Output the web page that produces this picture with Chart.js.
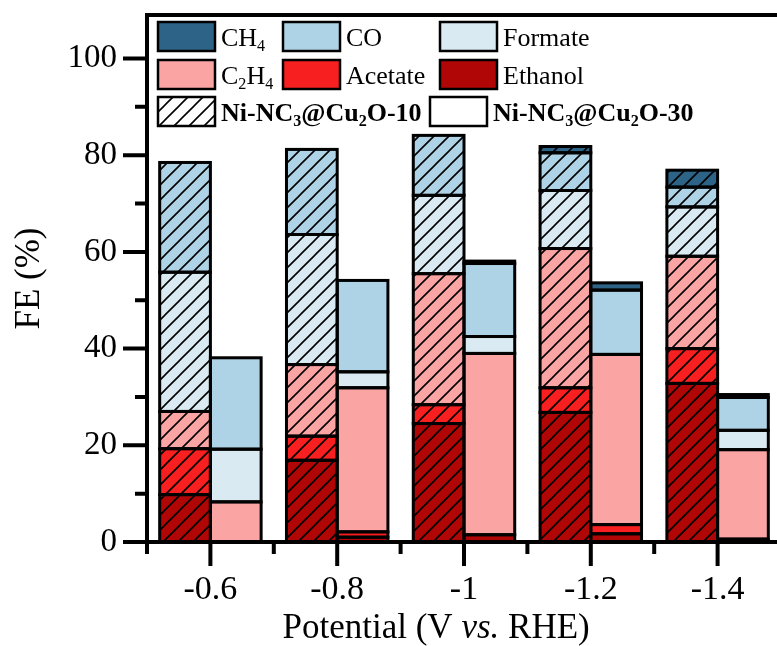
<!DOCTYPE html>
<html>
<head>
<meta charset="utf-8">
<script src="https://cdn.jsdelivr.net/npm/chart.js@4.4.1/dist/chart.umd.min.js"></script>
<style>
  html, body { margin: 0; padding: 0; background: #fff; overflow: hidden; }
  #wrap { width: 800px; height: 646px; }
</style>
</head>
<body>
<div id="wrap"><canvas id="fe" width="800" height="646"></canvas></div>
<script>
const SERIF = "'Liberation Serif', 'Times New Roman', serif";

const potentials = ['-0.6', '-0.8', '-1', '-1.2', '-1.4'];
const yTicks = [0, 20, 40, 60, 80, 100];

// Ni-NC3@Cu2O-10 (hatched)
const ethanol10 = [9.8, 16.9, 24.5, 26.8, 32.8];
const acetate10 = [9.5, 5.0, 3.9, 5.1, 7.2];
const ethylene10 = [7.7, 14.8, 27.1, 28.8, 19.1];
const formate10 = [28.8, 26.9, 16.2, 12.0, 10.2];
const co10 = [22.7, 17.6, 12.4, 7.8, 4.1];
const methane10 = [0, 0, 0, 1.3, 3.5];

// Ni-NC3@Cu2O-30 (plain)
const ethanol30 = [0, 1.0, 1.5, 1.7, 0.6];
const acetate30 = [0, 1.1, 0, 1.9, 0];
const ethylene30 = [8.3, 29.8, 37.5, 35.2, 18.5];
const formate30 = [10.9, 3.3, 3.5, 0, 4.0];
const co30 = [18.9, 18.9, 15.1, 13.3, 6.8];
const methane30 = [0, 0, 0.5, 1.5, 0.6];

const colors = {
  ch4: '#2d6386',
  co: '#afd3e6',
  formate: '#d9eaf3',
  c2h4: '#fba4a4',
  acetate: '#f71f1f',
  ethanol: '#b00606'
};

function hatch(color) {
  const n = 15;
  const c = document.createElement('canvas');
  c.width = c.height = n;
  const g = c.getContext('2d');
  g.fillStyle = color;
  g.fillRect(0, 0, n, n);
  g.strokeStyle = '#000';
  g.lineWidth = 1.6;
  g.beginPath();
  [0, n, 2 * n].forEach(k => {
    g.moveTo(-2, k + 2);
    g.lineTo(k + 2, -2);
  });
  g.stroke();
  return g.createPattern(c, 'repeat');
}

function series(label, data, color, stack) {
  return {
    label,
    data,
    stack,
    backgroundColor: stack === 'S10' ? hatch(color) : color,
    borderWidth: 0
  };
}

const datasets = [
  series('Ethanol', ethanol10, colors.ethanol, 'S10'),
  series('Acetate', acetate10, colors.acetate, 'S10'),
  series('C2H4', ethylene10, colors.c2h4, 'S10'),
  series('Formate', formate10, colors.formate, 'S10'),
  series('CO', co10, colors.co, 'S10'),
  series('CH4', methane10, colors.ch4, 'S10'),
  series('Ethanol', ethanol30, colors.ethanol, 'S30'),
  series('Acetate', acetate30, colors.acetate, 'S30'),
  series('C2H4', ethylene30, colors.c2h4, 'S30'),
  series('Formate', formate30, colors.formate, 'S30'),
  series('CO', co30, colors.co, 'S30'),
  series('CH4', methane30, colors.ch4, 'S30')
];

// text with subscript runs: [text, isSub]
function richText(ctx, parts, x, y, size, weight) {
  parts.forEach(([t, sub]) => {
    const s = sub ? size * 0.62 : size;
    ctx.font = `${weight} ${s}px ${SERIF}`;
    ctx.fillText(t, x, sub ? y + size * 0.2 : y);
    x += ctx.measureText(t).width;
  });
}

// black edge round every segment, centred on its bounds
const segmentEdges = {
  id: 'segmentEdges',
  afterDatasetsDraw(chart) {
    const ctx = chart.ctx;
    ctx.save();
    ctx.strokeStyle = '#000';
    ctx.lineWidth = 3;
    chart.data.datasets.forEach((ds, d) => {
      chart.getDatasetMeta(d).data.forEach((el, i) => {
        if (!ds.data[i]) return;
        ctx.strokeRect(el.x - el.width / 2, el.y, el.width, el.base - el.y);
      });
    });
    ctx.restore();
  }
};

// frame, tick marks, x title and legend
const frame = {
  id: 'frame',
  afterDraw(chart) {
    const { ctx, chartArea: a, scales: { x, y } } = chart;
    ctx.save();
    ctx.strokeStyle = '#000';
    ctx.lineWidth = 4;
    ctx.lineCap = 'butt';
    ctx.beginPath();
    ctx.moveTo(a.left, a.top); ctx.lineTo(a.right, a.top);
    ctx.moveTo(a.left, a.top - 2); ctx.lineTo(a.left, a.bottom + 2);
    ctx.moveTo(a.left - 2, a.bottom); ctx.lineTo(a.right, a.bottom);
    ctx.moveTo(a.right, a.top); ctx.lineTo(a.right, a.bottom);
    for (let v = 0; v <= 100; v += 10) {
      const py = y.getPixelForValue(v);
      const len = v % 20 === 0 ? 24 : 12;
      ctx.moveTo(a.left - len, py); ctx.lineTo(a.left, py);
    }
    const step = x.getPixelForValue(1) - x.getPixelForValue(0);
    potentials.forEach((_, i) => {
      const px = x.getPixelForValue(i);
      ctx.moveTo(px, a.bottom); ctx.lineTo(px, a.bottom + 24);
      ctx.moveTo(px - step / 2, a.bottom); ctx.lineTo(px - step / 2, a.bottom + 12);
    });
    ctx.stroke();

    // x axis title
    ctx.fillStyle = '#000';
    ctx.textBaseline = 'alphabetic';
    const runs = [['Potential (V ', ''], ['vs.', 'italic'], [' RHE)', '']];
    const size = 35;
    let total = 0;
    runs.forEach(([t, st]) => { ctx.font = `${st} ${size}px ${SERIF}`; total += ctx.measureText(t).width; });
    let tx = a.left + (a.right - a.left) * 0.456 - total / 2;
    runs.forEach(([t, st]) => {
      ctx.font = `${st} ${size}px ${SERIF}`;
      ctx.fillText(t, tx, 638);
      tx += ctx.measureText(t).width;
    });

    // legend
    const boxW = 57, boxH = 29, fs = 26;
    const entries = [
      { fill: colors.ch4, bx: 158, by: 22, text: [['CH', 0], ['4', 1]], w: '' },
      { fill: colors.co, bx: 283, by: 22, text: [['CO', 0]], w: '' },
      { fill: colors.formate, bx: 440, by: 22, text: [['Formate', 0]], w: '' },
      { fill: colors.c2h4, bx: 158, by: 60, text: [['C', 0], ['2', 1], ['H', 0], ['4', 1]], w: '' },
      { fill: colors.acetate, bx: 283, by: 60, text: [['Acetate', 0]], w: '' },
      { fill: colors.ethanol, bx: 440, by: 60, text: [['Ethanol', 0]], w: '' },
      { fill: hatch('#ffffff'), bx: 158, by: 97, text: [['Ni-NC', 0], ['3', 1], ['@Cu', 0], ['2', 1], ['O-10', 0]], w: 'bold' },
      { fill: '#ffffff', bx: 430, by: 97, text: [['Ni-NC', 0], ['3', 1], ['@Cu', 0], ['2', 1], ['O-30', 0]], w: 'bold' }
    ];
    ctx.lineWidth = 2.5;
    entries.forEach(e => {
      ctx.fillStyle = e.fill;
      ctx.fillRect(e.bx, e.by, boxW, boxH);
      ctx.strokeRect(e.bx, e.by, boxW, boxH);
      ctx.fillStyle = '#000';
      richText(ctx, e.text, e.bx + boxW + 6, e.by + boxH - 5, fs, e.w);
    });
    ctx.restore();
  }
};

new Chart(document.getElementById('fe'), {
  type: 'bar',
  data: { labels: potentials, datasets },
  options: {
    responsive: false,
    devicePixelRatio: 1,
    animation: false,
    events: [],
    layout: { padding: { top: 15, right: 19, left: 0, bottom: 0 } },
    datasets: { bar: { categoryPercentage: 0.8, barPercentage: 1 } },
    plugins: { legend: { display: false }, tooltip: { enabled: false } },
    scales: {
      x: {
        stacked: true,
        grid: { display: false, drawTicks: false },
        border: { display: false },
        ticks: { color: '#000', font: { family: SERIF, size: 34 }, padding: 28 },
        afterFit(scale) {
          scale.height = 104;
          scale.paddingLeft = 0;
          scale.paddingRight = 0;
        }
      },
      y: {
        stacked: true,
        min: 0,
        max: 109,
        grid: { display: false, drawTicks: false },
        border: { display: false },
        afterBuildTicks(scale) { scale.ticks = yTicks.map(v => ({ value: v })); },
        ticks: { color: '#000', font: { family: SERIF, size: 33 }, padding: 30 },
        title: { display: true, text: 'FE (%)', color: '#000', font: { family: SERIF, size: 35 }, padding: { top: 9 } },
        afterFit(scale) {
          scale.width = 147;
          scale.paddingTop = 0;
          scale.paddingBottom = 0;
        }
      }
    }
  },
  plugins: [segmentEdges, frame]
});
</script>
</body>
</html>
